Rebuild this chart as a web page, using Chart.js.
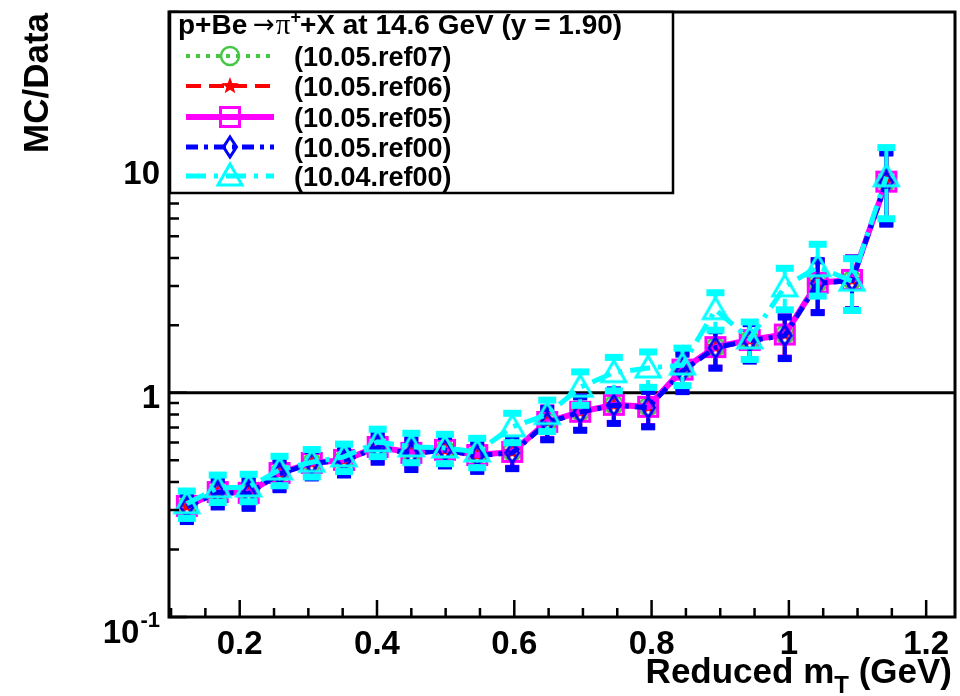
<!DOCTYPE html>
<html><head><meta charset="utf-8">
<script src="https://cdn.jsdelivr.net/npm/chart.js@4.4.0/dist/chart.umd.min.js"></script>
<style>html,body{margin:0;padding:0;background:#fff;}</style>
</head><body>
<canvas id="c" width="960" height="696"></canvas>
<script>
// ---- data ----
const mT = [0.123,0.168,0.213,0.258,0.305,0.352,0.401,0.450,0.499,0.546,0.597,0.648,0.696,0.745,0.795,0.845,0.893,0.943,0.994,1.042,1.092,1.142];
const ref07_1005 = [0.313,0.362,0.358,0.440,0.488,0.503,0.575,0.541,0.557,0.529,0.546,0.743,0.824,0.885,0.867,1.27,1.60,1.72,1.82,3.10,3.19,8.75];
const ref06_1005 = [0.312,0.361,0.357,0.439,0.487,0.502,0.574,0.540,0.556,0.528,0.545,0.742,0.823,0.884,0.866,1.27,1.60,1.72,1.82,3.10,3.19,8.75];
const ref05_1005 = [0.313,0.361,0.358,0.439,0.487,0.502,0.574,0.540,0.557,0.528,0.545,0.742,0.823,0.884,0.866,1.27,1.60,1.72,1.82,3.10,3.19,8.75];
const ref00_1005 = [0.310,0.360,0.355,0.435,0.485,0.500,0.570,0.535,0.555,0.525,0.540,0.735,0.820,0.880,0.860,1.25,1.59,1.71,1.80,3.08,3.17,8.70];
const ref00_1004 = [0.320,0.377,0.380,0.453,0.490,0.518,0.604,0.574,0.568,0.545,0.705,0.800,1.06,1.23,1.29,1.33,2.35,1.74,2.97,3.65,3.15,9.20];
const relErr     = [0.14,0.14,0.14,0.15,0.14,0.14,0.14,0.15,0.15,0.15,0.15,0.16,0.17,0.17,0.18,0.19,0.19,0.19,0.21,0.26,0.26,0.35];
const seriesLabels = ['(10.05.ref07)','(10.05.ref06)','(10.05.ref05)','(10.05.ref00)','(10.04.ref00)'];
const xTickValues = [0.2,0.4,0.6,0.8,1.0,1.2];
const xTickLabels = ['0.2','0.4','0.6','0.8','1','1.2'];
const yTickValues = [0.1,1,10];
const yTickLabels = ['10','1','10'];
const yTickExps   = ['-1','',''];

// ---- markers ----
function marker(kind, color, lw) {
  const S = 30, m = S/2;
  const c = document.createElement('canvas'); c.width = S; c.height = S;
  const g = c.getContext('2d');
  g.strokeStyle = color; g.fillStyle = color; g.lineWidth = lw; g.lineJoin = 'miter';
  g.beginPath();
  if (kind === 'circle') g.arc(m, m, 9, 0, 2*Math.PI);
  else if (kind === 'square') g.rect(m-9.5, m-9.5, 19, 19);
  else if (kind === 'diamond') { g.moveTo(m, m-10); g.lineTo(m+6.5, m); g.lineTo(m, m+10); g.lineTo(m-6.5, m); g.closePath(); }
  else if (kind === 'triangle') { g.moveTo(m, m-12); g.lineTo(m+12, m+9); g.lineTo(m-12, m+9); g.closePath(); }
  else if (kind === 'star') {
    for (let k = 0; k < 10; k++) {
      const r = (k % 2 === 0) ? 9 : 3.8;
      const a = -Math.PI/2 + k*Math.PI/5;
      const px = m + r*Math.cos(a), py = m + r*Math.sin(a);
      if (k === 0) g.moveTo(px, py); else g.lineTo(px, py);
    }
    g.closePath(); g.fill(); return c;
  }
  g.stroke();
  return c;
}

const styles = [
  {color:'#44c844', dash:[4,6],        width:4, mk:marker('circle','#44c844',2.5),  cap:[12,5], gap:10, order:4},
  {color:'#ff0000', dash:[15,8],       width:4, mk:marker('star','#ff0000',2),      cap:[12,5], gap:8,  order:3},
  {color:'#ff00ff', dash:[],           width:6, mk:marker('square','#ff00ff',3),    cap:[14,6], gap:11, order:2},
  {color:'#0000ff', dash:[12,6,4,6],   width:5, mk:marker('diamond','#0000ff',3),   cap:[14,7], gap:11, order:1},
  {color:'#00ffff', dash:[20,8,4,8],   width:5, mk:marker('triangle','#00ffff',3),  cap:[18,7], gap:12, order:0}
];
const seriesValues = [ref07_1005, ref06_1005, ref05_1005, ref00_1005, ref00_1004];

const datasets = seriesValues.map((vals, i) => ({
  label: seriesLabels[i],
  data: mT.map((x, j) => ({x: x, y: vals[j]})),
  borderColor: styles[i].color,
  borderWidth: styles[i].width,
  borderDash: styles[i].dash,
  pointStyle: styles[i].mk,
  pointRadius: 10,
  tension: 0,
  fill: false,
  order: styles[i].order
}));

const BOLD = '"Liberation Sans", Arial, Helvetica, sans-serif';

const rootPlugin = {
  id: 'rootLook',
  beforeDatasetsDraw(chart) {
    const {ctx, chartArea: a, scales: {y}} = chart;
    const py = y.getPixelForValue(1);
    ctx.save();
    ctx.strokeStyle = '#000'; ctx.lineWidth = 3;
    ctx.beginPath(); ctx.moveTo(a.left, py); ctx.lineTo(a.right, py); ctx.stroke();
    ctx.restore();
  },
  beforeDatasetDraw(chart, args) {
    const i = args.index, st = styles[i];
    const {ctx, chartArea: a, scales: {y}} = chart;
    const vals = seriesValues[i];
    ctx.save();
    ctx.beginPath(); ctx.rect(a.left, a.top, a.right - a.left, a.bottom - a.top); ctx.clip();
    ctx.strokeStyle = st.color; ctx.fillStyle = st.color; ctx.lineWidth = 4;
    args.meta.data.forEach((pt, j) => {
      const v = vals[j], e = v * relErr[j];
      const yt = y.getPixelForValue(v + e), yb = y.getPixelForValue(v - e);
      ctx.beginPath();
      if (pt.y - st.gap > yt) { ctx.moveTo(pt.x, yt); ctx.lineTo(pt.x, pt.y - st.gap); }
      if (pt.y + st.gap < yb) { ctx.moveTo(pt.x, pt.y + st.gap); ctx.lineTo(pt.x, yb); }
      ctx.stroke();
      ctx.fillRect(pt.x - st.cap[0]/2, yt - st.cap[1]/2, st.cap[0], st.cap[1]);
      ctx.fillRect(pt.x - st.cap[0]/2, yb - st.cap[1]/2, st.cap[0], st.cap[1]);
    });
    ctx.restore();
  },
  afterDraw(chart) {
    const {ctx, chartArea: a, scales: {x, y}} = chart;
    ctx.save();
    ctx.strokeStyle = '#000'; ctx.fillStyle = '#000'; ctx.setLineDash([]);
    // ticks
    ctx.lineWidth = 2.5;
    ctx.beginPath();
    for (let v = 0.1; v <= 1.2401; v += 0.05) {
      const px = x.getPixelForValue(v);
      if (px < a.left + 1 || px > a.right - 1) continue;
      const major = xTickValues.some(t => Math.abs(t - v) < 1e-6);
      ctx.moveTo(px, a.bottom); ctx.lineTo(px, a.bottom - (major ? 17 : 9));
    }
    for (let d = 0.1; d < 60; d *= 10) {
      for (let k = 1; k <= 9; k++) {
        const v = d * k;
        if (v > 50) break;
        const py = y.getPixelForValue(v);
        if (py < a.top || py > a.bottom) continue;
        ctx.moveTo(a.left, py); ctx.lineTo(a.left + (k === 1 ? 18 : 10), py);
      }
    }
    ctx.stroke();
    // frame
    ctx.lineWidth = 3;
    ctx.strokeRect(a.left, a.top, a.right - a.left, a.bottom - a.top);
    // x tick labels
    ctx.font = 'bold 33px ' + BOLD;
    ctx.textAlign = 'center'; ctx.textBaseline = 'alphabetic';
    xTickValues.forEach((v, k) => ctx.fillText(xTickLabels[k], x.getPixelForValue(v), 654));
    // y tick labels
    ctx.textAlign = 'right';
    yTickValues.forEach((v, k) => {
      const py = y.getPixelForValue(v);
      const right = 160;
      if (yTickExps[k]) {
        ctx.font = 'bold 22px ' + BOLD;
        const we = ctx.measureText(yTickExps[k]).width;
        ctx.fillText(yTickExps[k], right, py + 10);
        ctx.font = 'bold 33px ' + BOLD;
        ctx.fillText(yTickLabels[k], right - we - 1, py + 26);
      } else {
        ctx.font = 'bold 33px ' + BOLD;
        ctx.fillText(yTickLabels[k], right, py + 15);
      }
    });
    // x title
    ctx.textAlign = 'left';
    const big = 'bold 35px ' + BOLD, small = 'bold 24px ' + BOLD;
    ctx.font = big; const w1 = ctx.measureText('Reduced m').width; const w3 = ctx.measureText(' (GeV)').width;
    ctx.font = small; const w2 = ctx.measureText('T').width;
    let xs = 952 - (w1 + w2 + w3);
    ctx.font = big; ctx.fillText('Reduced m', xs, 683); xs += w1;
    ctx.font = small; ctx.fillText('T', xs, 693); xs += w2;
    ctx.font = big; ctx.fillText(' (GeV)', xs, 683);
    // y title
    ctx.save();
    ctx.translate(48, 13); ctx.rotate(-Math.PI/2);
    ctx.font = big; ctx.textAlign = 'right';
    ctx.fillText('MC/Data', 0, 0);
    ctx.restore();
    // legend
    const L = a.left + 1, T = a.top, W = 503, H = 181;
    ctx.fillStyle = '#fff'; ctx.fillRect(L, T, W, H);
    ctx.strokeStyle = '#000'; ctx.lineWidth = 2.5; ctx.strokeRect(L, T, W, H);
    ctx.fillStyle = '#000'; ctx.textAlign = 'left';
    let tx = L + 8; const tb = T + 22;
    const tf = 'bold 28px ' + BOLD;
    ctx.font = tf; ctx.fillText('p+Be ', tx, tb); tx += ctx.measureText('p+Be ').width - 2;
    ctx.font = '26px "DejaVu Sans", sans-serif'; ctx.fillText('\u2192', tx, tb - 1); tx += ctx.measureText('\u2192').width + 1;
    ctx.font = '29px "Liberation Serif", "Times New Roman", serif'; ctx.fillText('\u03c0', tx, tb); tx += ctx.measureText('\u03c0').width;
    ctx.font = 'bold 18px ' + BOLD; ctx.fillText('+', tx, tb - 11); tx += ctx.measureText('+').width - 1;
    ctx.font = tf; ctx.fillText('+X at 14.6 GeV (y = 1.90)', tx, tb);
    const rows = [56, 86, 117, 147, 176];
    styles.forEach((st, i) => {
      const ry = rows[i];
      ctx.save();
      ctx.strokeStyle = st.color; ctx.lineWidth = st.width; ctx.setLineDash(st.dash);
      ctx.beginPath(); ctx.moveTo(L + 16, ry); ctx.lineTo(L + 104, ry); ctx.stroke();
      ctx.restore();
      ctx.drawImage(st.mk, L + 60 - st.mk.width/2, ry - st.mk.height/2);
      ctx.font = 'bold 27px ' + BOLD; ctx.fillStyle = '#000';
      ctx.fillText(seriesLabels[i], L + 124, ry + 10);
    });
    ctx.restore();
  }
};

new Chart(document.getElementById('c').getContext('2d'), {
  type: 'line',
  data: {datasets: datasets},
  options: {
    responsive: false, animation: false, devicePixelRatio: 1,
    layout: {autoPadding: false, padding: {top: 12, right: 5, left: 0, bottom: 0}},
    plugins: {legend: {display: false}, tooltip: {enabled: false}},
    elements: {line: {borderCapStyle: 'butt'}},
    scales: {
      x: {type: 'linear', min: 0.097, max: 1.242, grid: {display: false}, border: {display: false},
          ticks: {display: false}, afterFit(s) { s.height = 79; }},
      y: {type: 'logarithmic', min: 0.1, max: 50, grid: {display: false}, border: {display: false},
          ticks: {display: false}, afterFit(s) { s.width = 169; }}
    }
  },
  plugins: [rootPlugin]
});
</script>
</body></html>
